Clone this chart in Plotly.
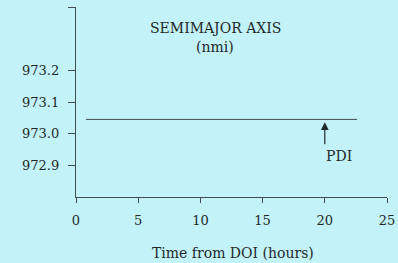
import plotly.graph_objects as go

# Data
time_hours = [0.8, 22.6]
semimajor_nmi = [973.045, 973.045]
x_ticks = [0, 5, 10, 15, 20, 25]
y_tickvals = [972.9, 973.0, 973.1, 973.2, 973.4]
y_ticktext = ["972.9", "973.0", "973.1", "973.2", ""]
pdi_time = 20
pdi_label = "PDI"
title_lines = ["SEMIMAJOR AXIS", "(nmi)"]
x_title = "Time from DOI (hours)"

BG = "#c3f2f9"
INK = "#1f2a2a"
LINE = "#3f4f4f"
FONT = "DejaVu Serif"

fig = go.Figure()
fig.add_trace(go.Scatter(x=time_hours, y=semimajor_nmi, mode="lines",
                         line=dict(color=LINE, width=1), showlegend=False,
                         hoverinfo="skip"))

annotations = [
    # PDI arrow
    dict(x=pdi_time, y=973.036, ax=pdi_time, ay=972.962,
         xref="x", yref="y", axref="x", ayref="y",
         showarrow=True, arrowhead=2, arrowsize=1.3, arrowwidth=1.2,
         arrowcolor=INK, text=""),
    dict(x=pdi_time - 0.05, y=972.928, xref="x", yref="y", text=pdi_label,
         showarrow=False, xanchor="left", yanchor="middle",
         font=dict(family=FONT, size=14, color=INK)),
    # Title
    dict(x=11.2, y=973.333, xref="x", yref="y", text=title_lines[0],
         showarrow=False, font=dict(family=FONT, size=14, color=INK)),
    dict(x=11.2, y=973.273, xref="x", yref="y", text=title_lines[1],
         showarrow=False, font=dict(family=FONT, size=14, color=INK)),
    # X axis title
    dict(x=0.505, y=-0.295, xref="paper", yref="paper", text=x_title,
         showarrow=False, yanchor="middle",
         font=dict(family=FONT, size=14, color=INK)),
]

# small overhang of the x-axis line to the left of the y axis
shapes = [dict(type="line", xref="x", yref="y", x0=-0.5, x1=0, y0=972.8, y1=972.8,
               line=dict(color=LINE, width=1.2))]

fig.update_layout(
    width=398, height=263,
    margin=dict(l=76, r=11, t=7, b=66, autoexpand=False),
    paper_bgcolor=BG, plot_bgcolor=BG,
    font=dict(family=FONT, size=13, color=INK),
    annotations=annotations,
    shapes=shapes,
    xaxis=dict(range=[0, 25], tickvals=x_ticks, showline=True, linecolor=LINE,
               linewidth=1.2, ticks="outside", ticklen=5, tickcolor=LINE,
               showgrid=False, zeroline=False, fixedrange=True,
               ticklabelstandoff=6,
               tickfont=dict(family=FONT, size=13, color=INK)),
    yaxis=dict(range=[972.8, 973.4], tickvals=y_tickvals, ticktext=y_ticktext,
               showline=True, linecolor=LINE, linewidth=1.2, ticks="outside",
               ticklen=7, tickcolor=LINE, showgrid=False, zeroline=False,
               fixedrange=True, ticklabelstandoff=6,
               tickfont=dict(family=FONT, size=13, color=INK)),
)

fig.write_html("out.html",
               config={"displayModeBar": False, "staticPlot": True},
               post_script="document.body.style.margin='0';"
                           "document.body.style.overflow='hidden';")
